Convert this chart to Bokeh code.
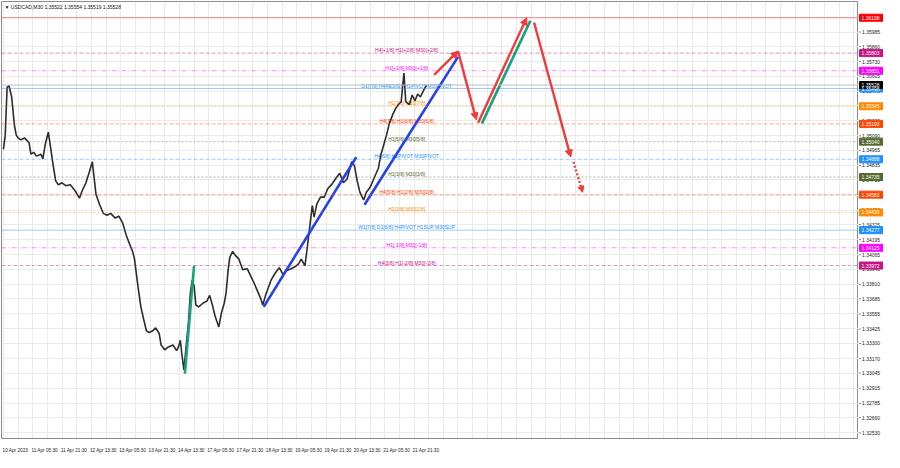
from bokeh.plotting import figure
from bokeh.layouts import row
from bokeh.models import (Range1d, FixedTicker, Label, Arrow, NormalHead, ColumnDataSource, Span)
from bokeh.embed import file_html
from bokeh.resources import INLINE
from bokeh.core.properties import value

# ---------------- data ----------------
symbol_title = "\u25bc USDCAD,M30  1.35522 1.35554 1.35519 1.35528"
current_price = 1.35528

bar_index = [0, 2, 4, 6, 9, 11, 12, 14, 16, 19, 23, 28, 30, 33, 36, 41, 43, 46, 49, 51,
             54, 57, 60, 64, 68, 73, 78, 83, 86, 90, 94, 97, 99, 101, 105, 109, 113, 117, 122, 126,
             130, 134, 138, 141, 143, 145, 147, 150, 153, 156, 159, 163, 166, 170, 172, 176, 180, 185, 189, 191,
             193, 195, 197, 199, 202, 204, 206, 208, 210, 213, 218, 222, 225, 228, 231, 235, 238, 241, 243, 245,
             247, 250, 253, 257, 261, 266, 270, 273, 277, 281, 283, 286, 289, 292, 297, 301, 305, 309, 314, 318,
             322, 325, 329, 331, 334, 337, 339, 342, 346, 350, 354, 358, 363, 367, 371, 375, 380, 383, 386, 389,
             393, 396, 400, 404, 409, 412, 415, 418, 421, 425, 428, 431, 434, 437, 439, 443, 446, 449, 452, 455,
             459, 462]
close_price = [1.34973, 1.35096, 1.35508, 1.35524, 1.35425, 1.35261, 1.35179, 1.35096, 1.35072, 1.35055,
               1.35072, 1.35031, 1.34932, 1.34948, 1.34915, 1.34932, 1.34891, 1.35031, 1.35121, 1.35014,
               1.34850, 1.34702, 1.34669, 1.34685, 1.34660, 1.34669, 1.34619, 1.34553, 1.34619, 1.34685,
               1.34784, 1.34866, 1.34726, 1.34586, 1.34496, 1.34422, 1.34405, 1.34422, 1.34381, 1.34397,
               1.34340, 1.34233, 1.34150, 1.34093, 1.34027, 1.33904, 1.33780, 1.33616, 1.33509, 1.33410,
               1.33394, 1.33410, 1.33435, 1.33386, 1.33287, 1.33246, 1.33270, 1.33287, 1.33238, 1.33270,
               1.33328, 1.33188, 1.33073, 1.33246, 1.33492, 1.33739, 1.33846, 1.33797, 1.33632, 1.33616,
               1.33649, 1.33665, 1.33715, 1.33632, 1.33534, 1.33443, 1.33567, 1.33649, 1.33739, 1.33920,
               1.34043, 1.34093, 1.34060, 1.34027, 1.33937, 1.33945, 1.33879, 1.33830, 1.33756, 1.33682,
               1.33632, 1.33715, 1.33780, 1.33846, 1.33912, 1.33953, 1.33896, 1.33928, 1.33945, 1.33961,
               1.33986, 1.34027, 1.33970, 1.34093, 1.34290, 1.34488, 1.34389, 1.34504, 1.34562, 1.34562,
               1.34636, 1.34669, 1.34726, 1.34767, 1.34685, 1.34718, 1.34866, 1.34833, 1.34702, 1.34603,
               1.34537, 1.34603, 1.34644, 1.34718, 1.34808, 1.34932, 1.35014, 1.35096, 1.35195, 1.35277,
               1.35327, 1.35360, 1.35384, 1.35631, 1.35384, 1.35360, 1.35442, 1.35392, 1.35450, 1.35425,
               1.35491, 1.35528]

level_price = [1.36108, 1.35803, 1.35651, 1.35498, 1.35345, 1.35193, 1.35040,
               1.34888, 1.34735, 1.34583, 1.34430, 1.34277, 1.34125, 1.33972]
level_text = ["", "H4[+1/8] H1[+2/8] M30[+2/8]", "H1[+1/8] M30[+1/8]",
              "D1[7/8] H4RESIST H1PIVOT M30PIVOT", "H1[7/8] M30[7/8]",
              "H4[7/8] H1[6/8] M30[6/8]", "H1[5/8] M30[5/8]", "H4[6/8] H1PIVOT M30PIVOT",
              "H1[3/8] M30[3/8]", "H4[5/8] H1[2/8] M30[2/8]", "H1[1/8] M30[1/8]",
              "W1[7/8] D1[6/8] H4PIVOT H1SUP M30SUP", "H1[-1/8] M30[-1/8]",
              "H4[3/8] H1[-2/8] M30[-2/8]"]
level_color = ["#FF0000", "#C71585", "#FF00FF", "#1E90FF", "#FF8C00", "#FF4500", "#556B2F",
               "#1E90FF", "#556B2F", "#FF4500", "#FF8C00", "#1E90FF", "#FF00FF", "#C71585"]
level_dash = ["solid", "4 2", "5 2 1 2", "solid", "2 2", "4 2", "2 2",
              "4 2", "2 2", "4 2", "2 2", "solid", "5 2 1 2", "4 2"]

price_ticks = [1.36110, 1.35985, 1.35860, 1.35730, 1.35605, 1.35475, 1.35350, 1.35220, 1.35090,
               1.34965, 1.34835, 1.34710, 1.34580, 1.34450, 1.34325, 1.34195, 1.34065, 1.33940,
               1.33810, 1.33685, 1.33555, 1.33425, 1.33300, 1.33170, 1.33045, 1.32915, 1.32785,
               1.32660, 1.32530]

time_tick_bar = [0, 32, 64, 96, 128, 160, 192, 224, 256, 288, 320, 352, 384, 416, 448]
time_tick_label = ["10 Apr 2023", "11 Apr 05:30", "11 Apr 21:30", "12 Apr 13:30", "13 Apr 05:30",
                   "13 Apr 21:30", "14 Apr 13:30", "17 Apr 05:30", "17 Apr 21:30", "18 Apr 13:30",
                   "19 Apr 05:30", "19 Apr 21:30", "20 Apr 13:30", "21 Apr 05:30", "21 Apr 21:30"]

# drawn trend lines (bar, price)
blue_x0 = [284, 394]
blue_y0 = [1.33616, 1.34496]
blue_x1 = [385, 496]
blue_y1 = [1.34907, 1.35771]

green_x0 = [198, 522]
green_y0 = [1.33040, 1.35195]
green_x1 = [208, 575]
green_y1 = [1.33970, 1.36083]

red_x0 = [470, 496, 518, 579]
red_y0 = [1.35615, 1.35820, 1.35203, 1.36067]
red_x1 = [496, 516, 571, 619]
red_y1 = [1.35820, 1.35228, 1.36108, 1.34907]

red_dot_x0 = [622]
red_dot_y0 = [1.34866]
red_dot_x1 = [632]
red_dot_y1 = [1.34603]

# ---------------- style ----------------
FONT = "Liberation Sans"
FS = "5px"
X_START, X_END = -2.1, 933.0
Y_START, Y_END = 1.32481, 1.36248
LABEL_SHIFT = 13
LEVEL_TEXT_BAR = 440
BLUE = "#2440F0"
GREEN = "#16A47C"
RED = "#F23A3A"
BORDER = "#8a8a8a"
FRAME_H = 437

p = figure(frame_width=857, frame_height=FRAME_H,
           x_range=Range1d(X_START, X_END), y_range=Range1d(Y_START, Y_END),
           y_axis_location=None, output_backend="svg", toolbar_location=None,
           min_border=0, min_border_left=1, min_border_top=1, min_border_bottom=14,
           background_fill_color="white", border_fill_color="white",
           outline_line_color=BORDER, outline_line_width=1)

# grid
p.xgrid.ticker = FixedTicker(ticks=list(range(0, 934, 16)))
p.ygrid.ticker = FixedTicker(ticks=price_ticks)
p.xgrid.grid_line_color = "#ebebeb"
p.ygrid.grid_line_color = "#ebebeb"

# time axis
xt = [b + LABEL_SHIFT for b in time_tick_bar]
p.xaxis.ticker = FixedTicker(ticks=xt)
p.xaxis.major_label_overrides = {t: s for t, s in zip(xt, time_tick_label)}
p.xaxis.major_label_text_font = FONT
p.xaxis.major_label_text_font_size = "4.7px"
p.xaxis.major_label_text_color = "#222222"
p.xaxis.major_tick_line_color = None
p.xaxis.minor_tick_line_color = None
p.xaxis.axis_line_color = BORDER
p.xaxis.major_label_standoff = 3

# level lines
for lp, lc, ld in zip(level_price, level_color, level_dash):
    p.add_layout(Span(location=lp, dimension="width", line_color=lc, line_alpha=0.45,
                      line_dash=ld, line_width=1))
p.add_layout(Span(location=current_price, dimension="width", line_color="#bdbdbd", line_width=1))

# level texts
txt_src = ColumnDataSource(dict(x=[LEVEL_TEXT_BAR] * len(level_price), y=level_price,
                                t=level_text, c=level_color))
p.text(x="x", y="y", text="t", text_color="c", source=txt_src, text_font=value(FONT),
       text_font_size=FS, text_align="center", text_baseline="bottom")

# price series
p.line(bar_index, close_price, line_color="#2c2c2c", line_width=1.6)

# trend lines
p.segment(x0=blue_x0, y0=blue_y0, x1=blue_x1, y1=blue_y1, line_color=BLUE, line_width=2.6)
p.segment(x0=green_x0, y0=green_y0, x1=green_x1, y1=green_y1, line_color=GREEN, line_width=2.6)

red_src = ColumnDataSource(dict(x0=red_x0, y0=red_y0, x1=red_x1, y1=red_y1))
p.add_layout(Arrow(source=red_src, x_start="x0", y_start="y0", x_end="x1", y_end="y1",
                   line_color=RED, line_width=2.4,
                   end=NormalHead(size=7, fill_color=RED, line_color=RED)))
reddot_src = ColumnDataSource(dict(x0=red_dot_x0, y0=red_dot_y0, x1=red_dot_x1, y1=red_dot_y1))
p.add_layout(Arrow(source=reddot_src, x_start="x0", y_start="y0", x_end="x1", y_end="y1",
                   line_color=RED, line_width=2.4, line_dash="2 2",
                   end=NormalHead(size=6, fill_color=RED, line_color=RED)))

# title
p.add_layout(Label(x=X_START, y=Y_END, x_offset=3, y_offset=-2, text=symbol_title,
                   text_color="#111111", text_font=FONT, text_font_size=FS,
                   text_baseline="top", text_align="left"))

# ---------------- price scale panel (shares the price range) ----------------
q = figure(frame_width=25, frame_height=FRAME_H, x_range=Range1d(0, 1), y_range=p.y_range,
           x_axis_location=None, y_axis_location=None, output_backend="svg",
           toolbar_location=None, min_border=0, min_border_top=1, min_border_bottom=14,
           background_fill_color="white", border_fill_color="white", outline_line_color=None)
q.grid.visible = False

q.segment(x0=0, x1=0.1, y0=price_ticks, y1=price_ticks, line_color=BORDER, line_width=1)
q.text(x=0.14, y=price_ticks, text=[f"{v:.5f}" for v in price_ticks], text_color="#222222",
       text_font=value(FONT), text_font_size=FS, text_baseline="middle", text_align="left")

tag_price = level_price + [current_price]
tag_color = level_color + ["#000000"]
tag_src = ColumnDataSource(dict(y=tag_price, c=tag_color, t=[f"{v:.5f}" for v in tag_price]))
q.rect(x=0.52, y="y", width=24, height=7, width_units="screen", height_units="screen",
       fill_color="c", line_color="c", source=tag_src)
q.text(x=0.12, y="y", text="t", text_color="white", text_font=value(FONT), text_font_size=FS,
       text_baseline="middle", text_align="left", source=tag_src)

layout = row(p, q)
open("out.html", "w").write(file_html(layout, INLINE))
